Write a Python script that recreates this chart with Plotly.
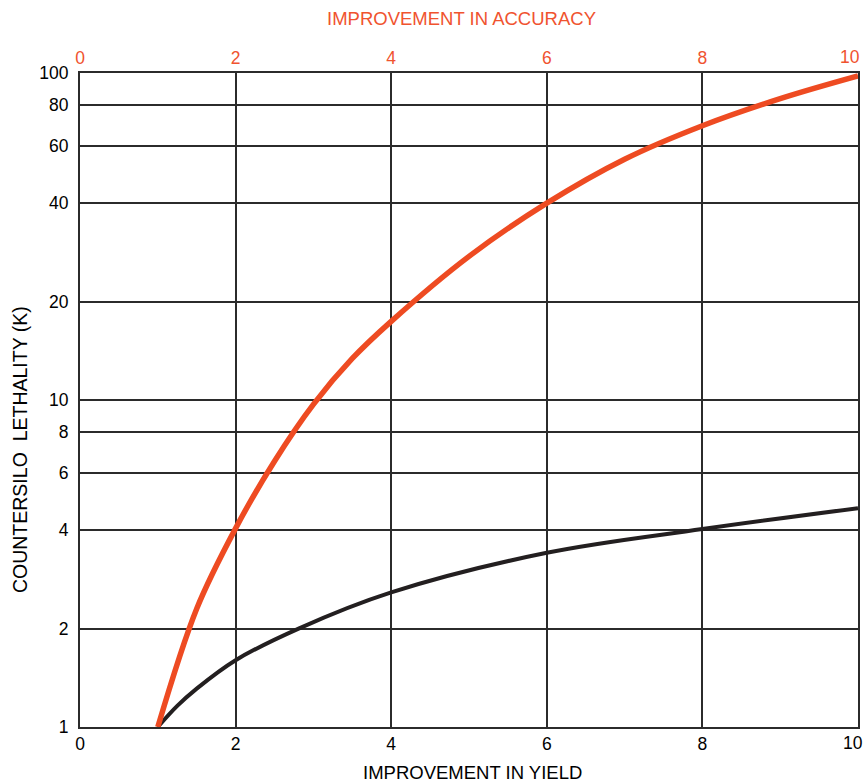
import plotly.graph_objects as go

# Improvement in accuracy (top axis) vs. countersilo lethality
accuracy = [1.0, 1.5, 2.0, 2.5, 3.0, 3.5, 4.0, 5.0, 6.0, 7.0, 8.0, 9.0, 10.0]
lethality_accuracy = [1.0, 2.3, 4.05, 6.5, 9.7, 13.4, 17.4, 27.5, 40.0, 54.5, 69.0, 83.5, 98.0]

# Improvement in yield (bottom axis) vs. countersilo lethality
yield_gain = [1.0, 1.25, 1.5, 2.0, 2.81, 4.0, 6.0, 8.0, 10.0]
lethality_yield = [1.0, 1.16, 1.31, 1.60, 2.0, 2.58, 3.41, 4.03, 4.67]

x_ticks = [0, 2, 4, 6, 8, 10]
y_ticks = [1, 2, 4, 6, 8, 10, 20, 40, 60, 80, 100]

ORANGE = "#EE4B22"
ORANGE_TEXT = "#F0532F"
DARK = "#231F20"
GRID = "#2B2B2B"
FONT = "Liberation Sans, Arial, sans-serif"
TICK_SIZE = 17.5
TITLE_SIZE = 18.5

# The last x label sits against the right edge, so it is set as an
# annotation anchored on its right side instead of centred on the gridline.
x_text = [str(v) for v in x_ticks[:-1]] + [""]
last_x_label = str(x_ticks[-1])

fig = go.Figure()

fig.add_trace(go.Scatter(
    x=yield_gain, y=lethality_yield, mode="lines",
    line=dict(color=DARK, width=4, shape="spline", smoothing=1.0),
    xaxis="x", yaxis="y", showlegend=False, hoverinfo="skip",
))
fig.add_trace(go.Scatter(
    x=accuracy, y=lethality_accuracy, mode="lines",
    line=dict(color=ORANGE, width=5.5, shape="spline", smoothing=1.0),
    xaxis="x2", yaxis="y", showlegend=False, hoverinfo="skip",
    cliponaxis=False,
))

axis_common = dict(
    range=[0, 10], tickvals=x_ticks, ticktext=x_text,
    showgrid=True, gridcolor=GRID, gridwidth=1.5,
    showline=True, linecolor=GRID, linewidth=2, zeroline=False,
    ticks="", fixedrange=True, automargin=False,
    ticklabeloverflow="allow",
)

fig.update_layout(
    width=866, height=784,
    margin=dict(l=80, r=8, t=73, b=57),
    paper_bgcolor="white", plot_bgcolor="white",
    font=dict(family=FONT, size=TICK_SIZE, color="black"),
    xaxis=dict(**axis_common, side="bottom",
               tickfont=dict(family=FONT, size=TICK_SIZE, color="black")),
    xaxis2=dict(**axis_common, side="top", overlaying="x",
                tickfont=dict(family=FONT, size=TICK_SIZE, color=ORANGE_TEXT)),
    yaxis=dict(
        type="log", range=[0, 2], tickvals=y_ticks,
        ticktext=[str(v) for v in y_ticks],
        showgrid=True, gridcolor=GRID, gridwidth=1.5,
        showline=True, linecolor=GRID, linewidth=2, mirror=True,
        zeroline=False, ticks="", fixedrange=True, automargin=False,
        ticklabelstandoff=6, ticklabeloverflow="allow",
        tickfont=dict(family=FONT, size=TICK_SIZE, color="black"),
    ),
    annotations=[
        dict(text=last_x_label, xref="paper", yref="paper",
             x=1.0051, y=1.0252, xanchor="right", yanchor="middle",
             showarrow=False,
             font=dict(family=FONT, size=TICK_SIZE, color=ORANGE_TEXT)),
        dict(text=last_x_label, xref="paper", yref="paper",
             x=1.0085, y=-0.0252, xanchor="right", yanchor="middle",
             showarrow=False,
             font=dict(family=FONT, size=TICK_SIZE, color="black")),
        dict(text="IMPROVEMENT IN ACCURACY", xref="paper", yref="paper",
             x=0.4906, y=1.0833, xanchor="center", yanchor="middle",
             showarrow=False,
             font=dict(family=FONT, size=TITLE_SIZE, color=ORANGE_TEXT)),
        dict(text="IMPROVEMENT IN YIELD", xref="paper", yref="paper",
             x=0.5045, y=-0.0695, xanchor="center", yanchor="middle",
             showarrow=False,
             font=dict(family=FONT, size=TITLE_SIZE, color="black")),
        dict(text="COUNTERSILO&nbsp;&nbsp;LETHALITY (K)", xref="paper", yref="paper",
             x=-0.0771, y=0.4235, xanchor="center", yanchor="middle",
             showarrow=False, textangle=-90,
             font=dict(family=FONT, size=19.5, color="black")),
    ],
)

fig.write_html("out.html")
